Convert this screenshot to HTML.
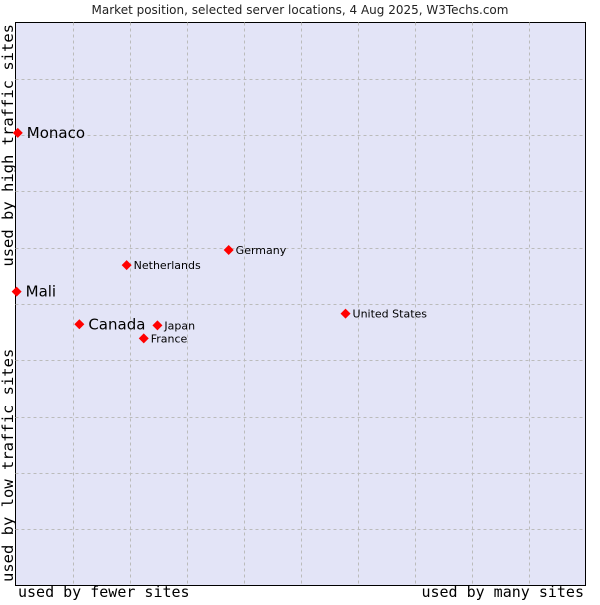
<!DOCTYPE html>
<html><head><meta charset="utf-8"><style>
body{margin:0;background:#fff;width:600px;height:600px;overflow:hidden}
text{font-family:"DejaVu Sans","Liberation Sans",sans-serif}
.mono{font-family:"DejaVu Sans Mono","Liberation Mono",monospace}
</style></head><body>
<svg id="chart" width="600" height="600">
<text x="300" y="14" text-anchor="middle" font-size="12" fill="#222">Market position, selected server locations, 4 Aug 2025, W3Techs.com</text>
<rect x="15.5" y="22.5" width="570" height="563" fill="#e3e4f7" stroke="#000" stroke-width="1"/>
<g id="grid"></g>
<g id="points"></g>
<text class="mono" x="18" y="597" font-size="15" fill="#000">used by fewer sites</text>
<text class="mono" x="584" y="597" font-size="15" text-anchor="end" fill="#000">used by many sites</text>
<text class="mono" transform="translate(13,24) rotate(-90)" font-size="15.5" text-anchor="end" fill="#000">used by high traffic sites</text>
<text class="mono" transform="translate(13,582) rotate(-90)" font-size="15.5" fill="#000">used by low traffic sites</text>
</svg>
<script>
const countries=["Monaco","Mali","Canada","Japan","France","Netherlands","Germany","United States"];
const xValues=[0.4,0.2,11.2,24.9,22.5,19.5,37.4,57.9];
const yValues=[80.4,52.2,46.4,46.2,43.9,56.9,59.6,48.3];
const big=[true,true,true,false,false,false,false,false];
const L=15.5,T=22.5,W=570,H=563;
const xs=v=>L+v/100*W, ys=v=>T+H-v/100*H;
const ns="http://www.w3.org/2000/svg";
const g=document.getElementById('grid'),p=document.getElementById('points');
for(let i=1;i<10;i++){
 const lx=document.createElementNS(ns,'line');
 
 
 const x=Math.round(xs(i*10))+0.5;
 lx.setAttribute('x1',x);lx.setAttribute('x2',x);lx.setAttribute('y1',T);lx.setAttribute('y2',T+H);
 lx.setAttribute('stroke','#bbb');lx.setAttribute('stroke-dasharray','3,3');g.appendChild(lx);
 const ly=document.createElementNS(ns,'line');
 
 
 const y=Math.round(ys(i*10))+0.5;
 ly.setAttribute('y1',y);ly.setAttribute('y2',y);ly.setAttribute('x1',L);ly.setAttribute('x2',L+W);
 ly.setAttribute('stroke','#bbb');ly.setAttribute('stroke-dasharray','3,3');g.appendChild(ly);
}
countries.forEach((c,i)=>{
 const x=xs(xValues[i]),y=ys(yValues[i]);
 const d=document.createElementNS(ns,'path');
 
 
 d.setAttribute('d',`M${x},${y-5}L${x+5},${y}L${x},${y+5}L${x-5},${y}Z`);
 d.setAttribute('fill','#f00');p.appendChild(d);
 const t=document.createElementNS(ns,'text');
 
 
 t.setAttribute('x',x+(big[i]?9:7));t.setAttribute('y',y+(big[i]?5:4));
 t.setAttribute('font-size',big[i]?15:11);t.setAttribute('fill','#000');
 t.textContent=c;p.appendChild(t);
});
</script>
</body></html>
